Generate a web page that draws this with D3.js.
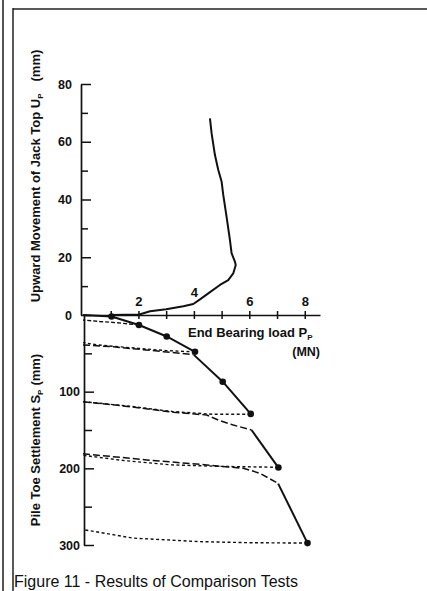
<!DOCTYPE html>
<html>
<head>
<meta charset="utf-8">
<script src="https://cdn.jsdelivr.net/npm/d3@7"></script>
<style>
  body { margin: 0; background: #fff; }
  text { font-family: "Liberation Sans", Arial, sans-serif; fill: #111; }
</style>
</head>
<body>
<div id="chart"></div>
<script>
// axis ticks and labels
var loadTicks = [1, 2, 3, 4, 5, 6, 7, 8];
var loadLabels = [2, 4, 6, 8];
var upTicks = [0, 10, 20, 30, 40, 50, 60, 70, 80];
var upLabels = [0, 20, 40, 60, 80];
var settleTicks = [50, 100, 150, 200, 250, 300];
var settleLabels = [100, 200, 300];

// upward movement of jack top (MN, mm)
var jackLoad = [1.03, 2.03, 2.42, 3.0, 3.62, 3.98, 4.22, 4.52, 4.94, 5.24, 5.42, 5.51, 5.48, 5.36, 5.30, 5.18, 5.06, 5.0, 4.88, 4.76, 4.64, 4.58];
var jackUp   = [0, 0.2, 1.3, 2.0, 3.0, 3.8, 5.4, 7.5, 10.4, 12.1, 14.4, 17.3, 18.5, 21.4, 26, 34, 41.6, 46.2, 50.2, 55.4, 62.9, 68.1];

// pile toe settlement, loading segments (solid)
var loadA = [0, 1.03, 2.02, 3.02, 4.04];
var settleA = [0, 2, 13, 28, 48];
var loadB = [4.0, 5.04, 6.05];
var settleB = [52, 87, 129];
var loadC = [6.08, 7.05];
var settleC = [150, 199];
var loadD = [7.04, 8.1];
var settleD = [220, 297.5];

// measured points on the loading curve
var dotLoad = [1.03, 2.02, 3.02, 4.04, 5.04, 6.05, 7.05, 8.1];
var dotSettle = [2, 13, 28, 48, 87, 129, 199, 297.5];

// unloading curves (short dash)
var unload2Load = [2.02, 1.2, 0.6, 0];
var unload2Settle = [13, 10, 8.5, 6.5];
var unload4Load = [4.04, 3.0, 2.0, 0.5, 0];
var unload4Settle = [48, 46.5, 43.5, 39, 36];
var unload6Load = [6.05, 4.7, 3.25, 1.7, 0];
var unload6Settle = [129.5, 129.5, 126, 119, 113];
var unload7Load = [7.05, 5.0, 3.2, 1.5, 0];
var unload7Settle = [198.6, 197.5, 195.5, 190, 183];
var unload8Load = [8.1, 6.0, 4.2, 1.8, 0.6, 0];
var unload8Settle = [297.5, 297, 295.6, 291, 283.5, 280];

// reloading curves (long dash)
var reload4Load = [0, 1.1, 2.9, 3.98];
var reload4Settle = [39, 41.5, 47.8, 51.5];
var reload6Load = [0, 1.7, 3.25, 4.46, 4.88, 5.42, 6.08];
var reload6Settle = [113, 119.6, 126.9, 130.4, 137, 143.5, 150];
var reload7Load = [0, 2.3, 4.46, 5.78, 6.08, 6.38, 7.04];
var reload7Settle = [181, 189, 195.6, 200, 203, 206.5, 219.6];

var w = 427, h = 591;

var svg = d3.select("#chart")
    .append("svg")
    .attr("width", w)
    .attr("height", h);

var x = d3.scaleLinear().domain([0, 8.55]).range([83, 320]);
var yUp = d3.scaleLinear().domain([0, 80]).range([315, 84]);
var yDown = d3.scaleLinear().domain([0, 300]).range([315, 545]);

// page frame of the scanned figure
svg.append("line").attr("x1", 3).attr("x2", 3).attr("y1", 0).attr("y2", h)
    .attr("stroke", "#555").attr("stroke-width", 2);
svg.append("line").attr("x1", 13).attr("x2", 13).attr("y1", 8).attr("y2", h)
    .attr("stroke", "#222").attr("stroke-width", 1.5);
svg.append("line").attr("x1", 13).attr("x2", w).attr("y1", 9).attr("y2", 9)
    .attr("stroke", "#222").attr("stroke-width", 1.5);

function styleAxis(g) {
    g.attr("font-family", null).attr("font-size", null);
    g.select(".domain").attr("stroke", "#111").attr("stroke-width", 1.7);
    g.selectAll(".tick line").attr("stroke", "#111").attr("stroke-width", 1.5);
    g.selectAll(".tick text").attr("font-size", "12.5px").attr("font-weight", "bold").attr("fill", "#111");
}

// load axis, labels above
var xAxis = d3.axisTop(x)
    .tickValues(loadTicks)
    .tickSize(4)
    .tickSizeOuter(0)
    .tickPadding(5)
    .tickFormat(function(d) { return loadLabels.indexOf(d) >= 0 ? d : ""; });

var gx = svg.append("g")
    .attr("transform", "translate(0,315)")
    .call(xAxis)
    .call(styleAxis);
gx.selectAll(".tick line").attr("y1", 4);
gx.selectAll(".tick text").attr("font-size", "13px");
// the "4" sits higher, clear of the jack curve
gx.selectAll(".tick").filter(function(d) { return d === 4; })
    .select("text").attr("y", -18);

// upward movement axis
var upAxis = d3.axisLeft(yUp)
    .tickValues(upTicks)
    .tickSizeInner(-10)
    .tickSizeOuter(0)
    .tickPadding(9)
    .tickFormat(function(d) { return upLabels.indexOf(d) >= 0 ? d : ""; });

var gUp = svg.append("g")
    .attr("transform", "translate(81,0)")
    .call(upAxis)
    .call(styleAxis);
gUp.selectAll(".tick").filter(function(d) { return upLabels.indexOf(d) < 0; })
    .select("line").attr("x2", 7);

// settlement axis
var downAxis = d3.axisLeft(yDown)
    .tickValues(settleTicks)
    .tickSizeInner(-10)
    .tickSizeOuter(0)
    .tickPadding(4)
    .tickFormat(function(d) { return settleLabels.indexOf(d) >= 0 ? d : ""; });

var gDown = svg.append("g")
    .attr("transform", "translate(84,0)")
    .call(downAxis)
    .call(styleAxis);
gDown.selectAll(".tick").filter(function(d) { return settleLabels.indexOf(d) < 0; })
    .select("line").attr("x2", 8);

// line generators
var upLine = d3.line()
    .x(function(d) { return x(d[0]); })
    .y(function(d) { return yUp(d[1]); });

var downLine = d3.line()
    .x(function(d) { return x(d[0]); })
    .y(function(d) { return yDown(d[1]); });

function addCurve(line, xs, ys, width, dash) {
    svg.append("path")
        .datum(d3.zip(xs, ys))
        .attr("fill", "none")
        .attr("stroke", "#111")
        .attr("stroke-width", width)
        .attr("stroke-linejoin", "round")
        .attr("stroke-dasharray", dash)
        .attr("d", line);
}

addCurve(upLine, jackLoad, jackUp, 2, null);

// unloading
addCurve(downLine, unload2Load, unload2Settle, 1.4, "4,2");
addCurve(downLine, unload4Load, unload4Settle, 1.4, "3,2.5");
addCurve(downLine, unload6Load, unload6Settle, 1.4, "3,2.5");
addCurve(downLine, unload7Load, unload7Settle, 1.4, "3,2.5");
addCurve(downLine, unload8Load, unload8Settle, 1.4, "3,2.5");

// reloading
addCurve(downLine, reload4Load, reload4Settle, 1.5, "7,3");
addCurve(downLine, reload6Load, reload6Settle, 1.5, "7,3");
addCurve(downLine, reload7Load, reload7Settle, 1.5, "7,3");

// loading
addCurve(downLine, loadA, settleA, 2, null);
addCurve(downLine, loadB, settleB, 2, null);
addCurve(downLine, loadC, settleC, 2, null);
addCurve(downLine, loadD, settleD, 2, null);

svg.selectAll("circle.pt")
    .data(d3.zip(dotLoad, dotSettle))
    .enter().append("circle")
    .attr("class", "pt")
    .attr("cx", function(d) { return x(d[0]); })
    .attr("cy", function(d) { return yDown(d[1]); })
    .attr("r", 3.3)
    .attr("fill", "#111");

// axis titles
var xt = svg.append("text").attr("x", 188).attr("y", 337)
    .attr("font-size", "13px").attr("font-weight", "bold");
xt.append("tspan").text("End Bearing load P");
xt.append("tspan").attr("font-size", "8px").attr("dy", 3).text("P");
svg.append("text").attr("x", 320).attr("y", 356).attr("font-size", "12.5px")
    .attr("font-weight", "bold").attr("text-anchor", "end").text("(MN)");

var yt1 = svg.append("text")
    .attr("transform", "translate(40,176) rotate(-90)")
    .attr("text-anchor", "middle")
    .attr("font-size", "13px")
    .attr("font-weight", "bold");
yt1.append("tspan").text("Upward Movement of Jack Top U");
yt1.append("tspan").attr("font-size", "8px").attr("dy", 3).text("P");
yt1.append("tspan").attr("dy", -3).attr("dx", 12).text("(mm)");

var yt2 = svg.append("text")
    .attr("transform", "translate(40,440) rotate(-90)")
    .attr("text-anchor", "middle")
    .attr("font-size", "13px")
    .attr("font-weight", "bold");
yt2.append("tspan").text("Pile Toe Settlement S");
yt2.append("tspan").attr("font-size", "8px").attr("dy", 3).text("P");
yt2.append("tspan").attr("dy", -3).attr("dx", 4).text("(mm)");

// caption
svg.append("text").attr("x", 14).attr("y", 587).attr("font-size", "16px")
    .text("Figure 11 - Results of Comparison Tests");
</script>
</body>
</html>
